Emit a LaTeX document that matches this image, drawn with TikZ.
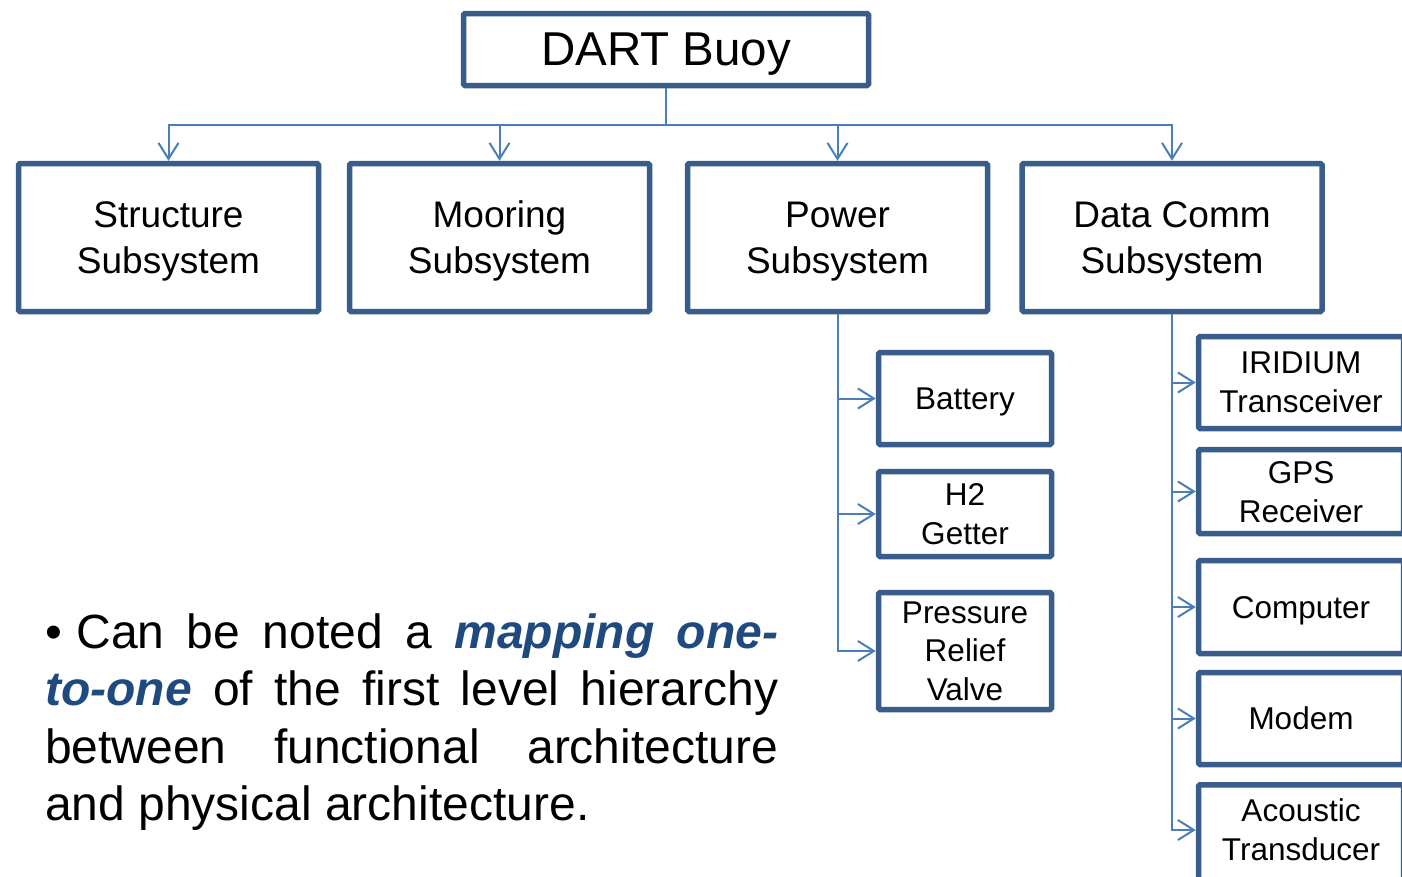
\documentclass[tikz,border=0pt]{standalone}
\usepackage{fontspec}
\setmainfont{Liberation Sans}
\usetikzlibrary{arrows.meta}
\definecolor{boxline}{HTML}{385D8A}
\definecolor{linkline}{HTML}{4A7EBB}
\definecolor{emph}{HTML}{1F4A80}
\tikzset{
  box/.style={draw=boxline, line width=5.5pt, rounded corners=1.5pt, fill=white,
              inner sep=0pt, align=center, text=black, text depth=0pt},
  topbox/.style={box, minimum width=405pt, minimum height=72pt,
                 font=\fontsize{47.5}{57}\selectfont},
  subbox/.style={box, minimum width=300pt, minimum height=148pt,
                 font=\fontsize{37}{46}\selectfont},
  partbox/.style={box, minimum width=173pt, font=\fontsize{31.5}{38.5}\selectfont},
  commbox/.style={box, minimum width=205pt, font=\fontsize{31.5}{39}\selectfont},
  link/.style={draw=linkline, line width=2pt,
               -{Straight Barb[length=16pt,width=20pt,line width=2pt]}},
}
\begin{document}
\begin{tikzpicture}[x=1pt, y=-1pt]
\useasboundingbox (0,0) rectangle (1402,876);
\begin{scope}
\clip (0,0) rectangle (1402,876);

% top of the hierarchy
\node[topbox] (dart) at (666,49.5) {DART Buoy};

% first level
\node[subbox] (struct) at (168.5,237.5) {Structure\\Subsystem};
\node[subbox] (moor)   at (499.5,237.5) {Mooring\\Subsystem};
\node[subbox] (power)  at (837.5,237.5) {Power\\Subsystem};
\node[subbox] (comm)   at (1172,237.5)  {Data Comm\\Subsystem};

\coordinate (bus) at (666,125);
\foreach \n in {struct,moor,power,comm}
  \draw[link] (dart.south) -- (bus) -| (\n.north);

% power parts
\node[partbox, minimum height=92pt]  (batt)  at (965,398.5) {Battery};
\node[partbox, minimum height=85pt]  (getter) at (965,514)  {H2\\Getter};
\node[partbox, minimum height=117pt] (valve) at (965,651)   {Pressure\\Relief\\Valve};
\foreach \n in {batt,getter,valve}
  \draw[link] (power.south) |- (\n.west);

% data comm parts
\node[commbox, minimum height=92pt] (irid)  at (1301,382.5) {IRIDIUM\\Transceiver};
\node[commbox, minimum height=84pt] (gps)   at (1301,491.5) {GPS\\Receiver};
\node[commbox, minimum height=93pt] (comp)  at (1301,607)   {Computer};
\node[commbox, minimum height=92pt] (modem) at (1301,718.5) {Modem};
% the last box runs on past the lower edge; its text sits in the visible part
\node[commbox, minimum height=130pt, text depth=39.5pt] (acou) at (1301,849.75)
  {Acoustic\\Transducer};
\foreach \n in {irid,gps,comp,modem}
  \draw[link] (comm.south) |- (\n.west);
\draw[link] (comm.south) |- ([yshift=19.75pt]acou.west);
\end{scope}

% remark
\node[anchor=base west, inner sep=0pt, text width=733pt, align=justify,
      font=\fontsize{48}{57.5}\selectfont] (note) at (45,648)
  {\textbullet\hspace{0.3em}Can be noted a {\color{emph}\bfseries\itshape mapping
   one-}\linebreak{\color{emph}\bfseries\itshape to-one} of the first level
   hierarchy\linebreak between functional architecture\linebreak and physical
   architecture.};
\end{tikzpicture}
\end{document}
